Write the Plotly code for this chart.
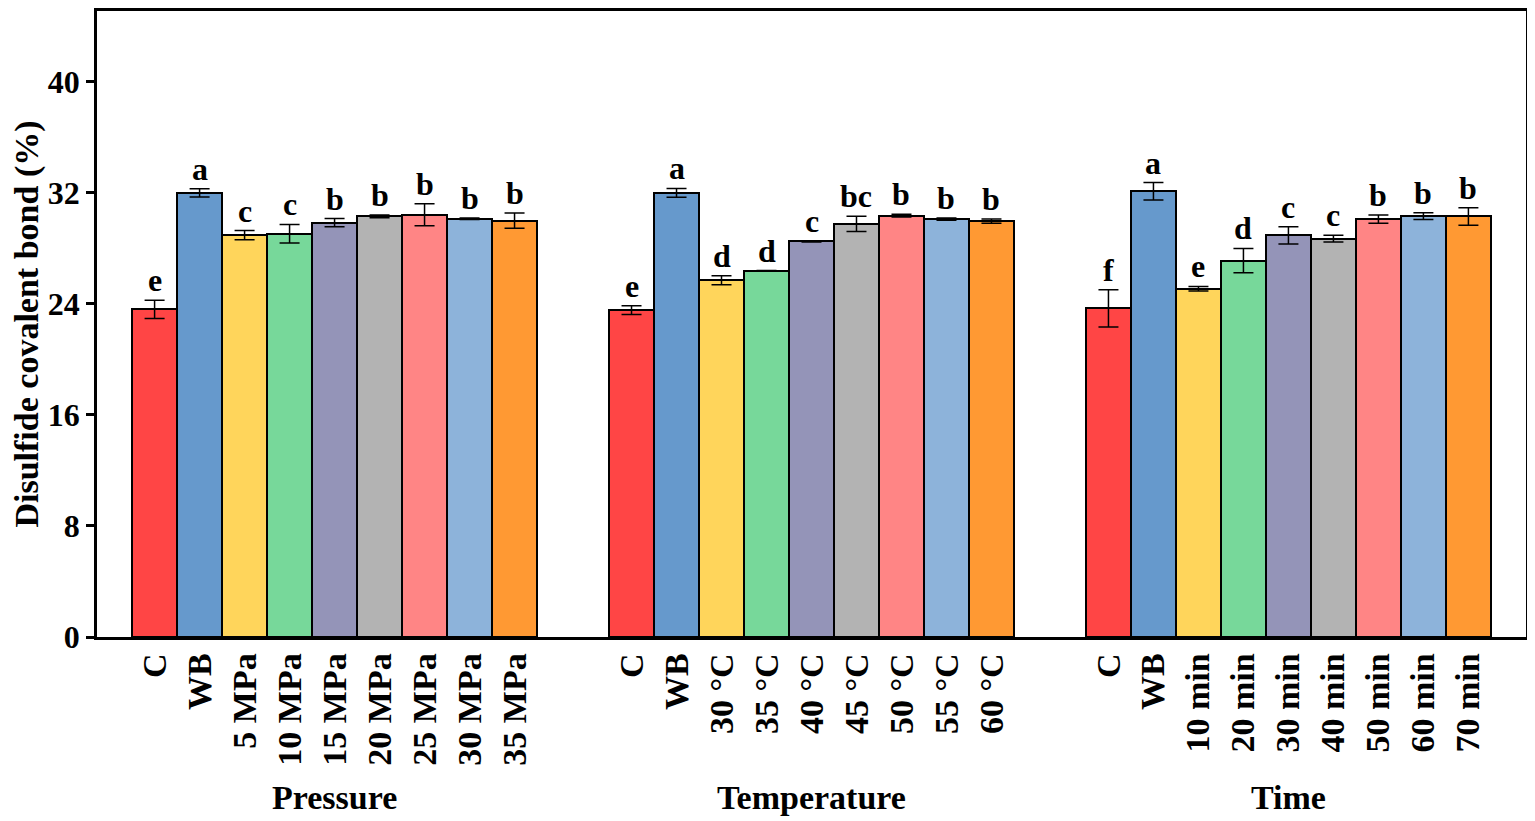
import plotly.graph_objects as go

groups = ["Pressure", "Temperature", "Time"]
labels_pressure = ["C", "WB", "5 MPa", "10 MPa", "15 MPa", "20 MPa", "25 MPa", "30 MPa", "35 MPa"]
labels_temperature = ["C", "WB", "30 °C", "35 °C", "40 °C", "45 °C", "50 °C", "55 °C", "60 °C"]
labels_time = ["C", "WB", "10 min", "20 min", "30 min", "40 min", "50 min", "60 min", "70 min"]

values_pressure = [23.6, 32.0, 28.95, 29.05, 29.85, 30.3, 30.42, 30.13, 30.0]
errors_pressure = [0.66, 0.3, 0.33, 0.67, 0.3, 0.1, 0.79, 0.05, 0.55]
letters_pressure = ["e", "a", "c", "c", "b", "b", "b", "b", "b"]

values_temperature = [23.55, 32.0, 25.7, 26.4, 28.5, 29.77, 30.35, 30.1, 29.96]
errors_temperature = [0.32, 0.32, 0.32, 0.0, 0.05, 0.55, 0.1, 0.08, 0.15]
letters_temperature = ["e", "a", "d", "d", "c", "bc", "b", "b", "b"]

values_time = [23.68, 32.11, 25.09, 27.12, 28.94, 28.7, 30.11, 30.32, 30.3]
errors_time = [1.34, 0.63, 0.17, 0.87, 0.62, 0.24, 0.3, 0.24, 0.63]
letters_time = ["f", "a", "e", "d", "c", "c", "b", "b", "b"]

colors = ["#FF4545", "#6699CC", "#FFD55B", "#77D89A", "#9494B8",
          "#B3B3B3", "#FF8585", "#8DB3DA", "#FF9933"]

y_ticks = [0, 8, 16, 24, 32, 40]

group_data = [
    (labels_pressure, values_pressure, errors_pressure, letters_pressure),
    (labels_temperature, values_temperature, errors_temperature, letters_temperature),
    (labels_time, values_time, errors_time, letters_time),
]
group_offset = 10.6

FONT = "Liberation Serif"
fig = go.Figure()
tickvals, ticktext = [], []
annotations = []
for gi, (labs, vals, errs, lets) in enumerate(group_data):
    xs = [gi * group_offset + i for i in range(len(labs))]
    tickvals += xs
    ticktext += [f"<b>{t}</b>" for t in labs]
    fig.add_trace(go.Bar(
        x=xs, y=vals, width=1.0,
        marker=dict(color=colors, line=dict(color="black", width=2)),
        error_y=dict(type="data", array=errs, visible=True, color="black",
                     thickness=1.5, width=10),
        showlegend=False,
    ))
    for x, v, e, l in zip(xs, vals, errs, lets):
        annotations.append(dict(x=x, y=v + e, text=f"<b>{l}</b>", showarrow=False,
                                yanchor="bottom", yshift=0,
                                font=dict(family=FONT, size=32, color="black")))
    annotations.append(dict(x=xs[4], y=0, yref="paper", yshift=-160, text=f"<b>{groups[gi]}</b>",
                            showarrow=False, yanchor="middle",
                            font=dict(family=FONT, size=34, color="black")))

fig.update_layout(
    width=1527, height=813,
    margin=dict(l=89, r=9, t=0, b=184),
    plot_bgcolor="white", paper_bgcolor="white",
    annotations=annotations,
    font=dict(family=FONT, color="black"),
    bargap=0,
)
fig.update_xaxes(
    range=[-1.28, 30.48], tickmode="array", tickvals=tickvals, ticktext=ticktext,
    tickangle=-90, ticks="", showgrid=False, zeroline=False,
    showline=True, linecolor="black", linewidth=2.5, mirror=True,
    tickfont=dict(family=FONT, size=34, color="black"),
)
fig.update_yaxes(
    range=[0, 45.1], tickmode="array", tickvals=y_ticks,
    ticktext=[f"<b>{t}</b>" for t in y_ticks],
    ticks="outside", ticklen=8, tickwidth=2.5, tickcolor="black",
    showgrid=False, zeroline=False,
    showline=True, linecolor="black", linewidth=2.5, mirror=True,
    tickfont=dict(family=FONT, size=32, color="black"),
    title=dict(text="<b>Disulfide covalent bond (%)</b>", standoff=14,
               font=dict(family=FONT, size=34, color="black")),
)

fig.write_html("out.html")
